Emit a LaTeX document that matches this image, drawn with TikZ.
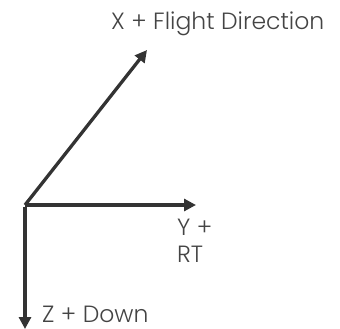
\documentclass[tikz,border=0pt]{standalone}
\usepackage{fontspec}
\setmainfont{Poppins Light}
\usetikzlibrary{arrows.meta}
\definecolor{axis}{HTML}{333333}
\definecolor{lbl}{HTML}{444444}
\tikzset{
  axisarrow/.style={draw=axis, line width=3.3pt, -{Triangle[length=12pt,width=12pt]}},
  lbltext/.style={text=lbl, font=\fontsize{23.5}{28}\selectfont, inner sep=0pt, anchor=base west}
}
\begin{document}
\begin{tikzpicture}[x=1pt,y=-1pt]
\useasboundingbox (0,0) rectangle (340,329);
\coordinate (o) at (25,205);
\coordinate (xt) at (147,50);
\coordinate (yt) at (196,205);
\coordinate (zt) at (25,329);
\draw[axisarrow] (o) -- (xt);
\draw[axisarrow] (o) -- (yt);
\draw[axisarrow] ([yshift=-1.6pt]o) -- (zt);
\node[lbltext] (xl) at (111,30) {X + Flight Direction};
\node[lbltext] (yl) at (177,235) {Y +};
\node[lbltext] (rl) at (177,262) {RT};
\node[lbltext] (zl) at (42,322) {Z + Down};
\end{tikzpicture}
\end{document}
